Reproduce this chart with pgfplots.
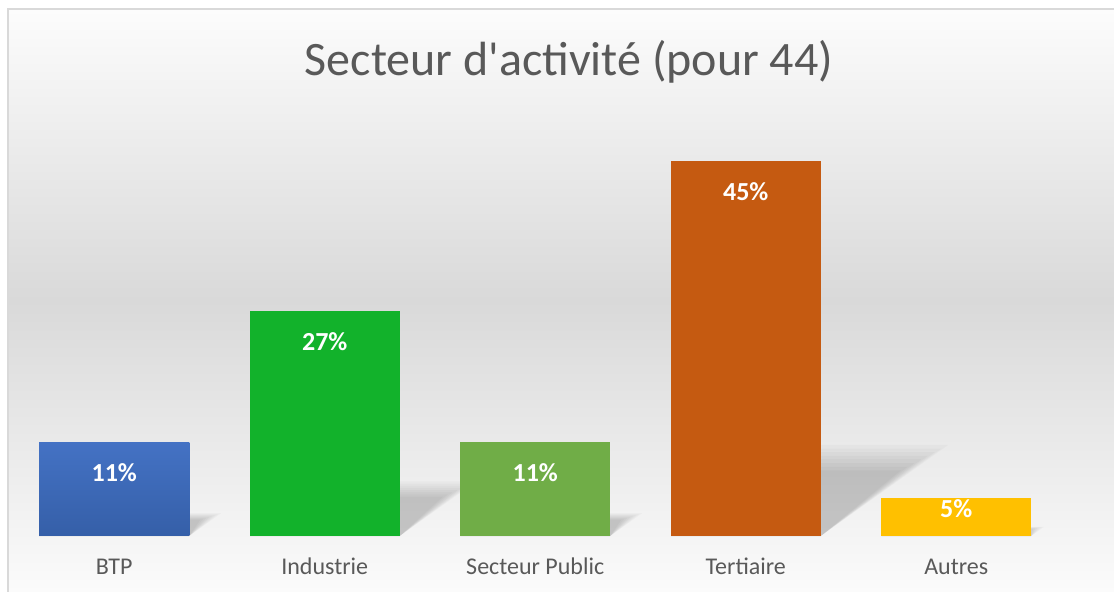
\documentclass[border=0pt]{standalone}
\usepackage{fontspec}
\setmainfont{Carlito}
\newfontfamily\titlefont{Carlito}[Ligatures=TeXOff]
\usepackage{pgfplots}
\pgfplotsset{compat=1.18}
\definecolor{cBTP}{HTML}{4472C4}
\definecolor{cBTPd}{HTML}{355FA8}
\definecolor{cInd}{HTML}{12B22B}
\definecolor{cPub}{HTML}{70AD47}
\definecolor{cTer}{HTML}{C55A11}
\definecolor{cAut}{HTML}{FFC000}
\definecolor{txt}{HTML}{595959}
\definecolor{frm}{HTML}{D9D9D9}
\definecolor{bgtop}{HTML}{FCFCFC}
\definecolor{bgmid}{HTML}{D9D9D9}
\definecolor{bgbot}{HTML}{FBFBFB}

% soft perspective shadow behind a bar: #1 = category position, #2 = value
\newcommand\barshadow[2]{%
 \foreach \f/\s/\o in {1/0/0.022,0.96/0.008/0.022,0.92/0.016/0.024,0.88/0.024/0.024,0.84/0.032/0.026,0.80/0.040/0.026,0.76/0.048/0.028,0.72/0.056/0.028}{%
  \pgfmathsetmacro\xl{#1-0.3563}%
  \pgfmathsetmacro\xr{#1+0.3563}%
  \pgfmathsetmacro\dx{0.01333*#2*\f}%
  \pgfmathsetmacro\dy{0.243*#2*\f}%
  \pgfmathsetmacro\xtr{\xr+\dx-\s}%
  \pgfmathsetmacro\xtl{\xl+\dx}%
  \edef\temp{\noexpand\addplot[draw=none,fill=black,fill opacity=\o,forget plot] coordinates {(\xl,0) (\xr,0) (\xtr,\dy) (\xtl,\dy)};}%
  \temp}}

\pgfplotsset{
  mybar/.style={ybar, bar width=150bp, bar shift=0pt, draw=none,
    nodes near coords={#1},
    every node near coord/.append style={anchor=base, yshift=-39bp, text=white,
      font=\bfseries\fontsize{26bp}{30bp}\selectfont}},
}

\begin{document}
\begin{tikzpicture}
\useasboundingbox (0,0) rectangle (1114bp,592bp);
\fill[white] (0,0) rectangle (1114bp,592bp);
\shade[top color=bgtop, bottom color=bgbot, middle color=bgmid] (8bp,0) rectangle (1114bp,583bp);
\draw[frm, line width=1.5bp] (8bp,0) -- (8bp,583bp) -- (1114bp,583bp);
\node[anchor=base, text=txt, font=\titlefont\fontsize{48bp}{56bp}\selectfont] at (569bp,516bp) {Secteur d'activité (pour 44)};

\begin{axis}[
  at={(9bp,56bp)}, anchor=south west,
  scale only axis, width=1052.5bp, height=412.5bp,
  xmin=-0.5, xmax=4.5, ymin=0, ymax=50,
  axis line style={draw=none},
  ytick=\empty,
  xtick={0,1,2,3,4},
  xticklabels={BTP,Industrie,Secteur Public,Tertiaire,Autres},
  major tick length=0pt,
  xticklabel style={anchor=base, yshift=-38bp, text=txt,
    font=\fontsize{24bp}{28bp}\selectfont},
  clip=false,
]
\barshadow{0}{11.36}
\barshadow{1}{27.27}
\barshadow{2}{11.36}
\barshadow{3}{45.45}
\barshadow{4}{4.55}

\addplot[mybar={11\%}, top color=cBTP, bottom color=cBTPd] coordinates {(0,11.36)};
\addplot[mybar={27\%}, fill=cInd] coordinates {(1,27.27)};
\addplot[mybar={11\%}, fill=cPub] coordinates {(2,11.36)};
\addplot[mybar={45\%}, fill=cTer] coordinates {(3,45.45)};
\addplot[mybar={5\%}, fill=cAut, every node near coord/.append style={yshift=20bp}] coordinates {(4,4.55)};
\end{axis}
\end{tikzpicture}
\end{document}
